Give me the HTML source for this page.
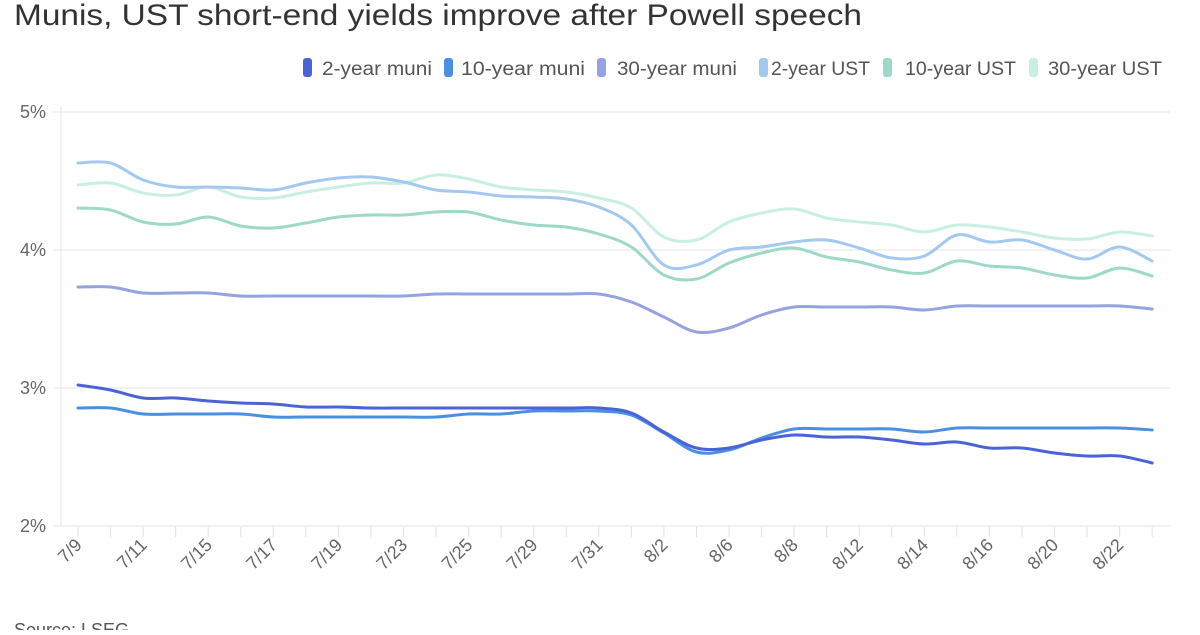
<!DOCTYPE html>
<html><head><meta charset="utf-8"><style>
body{margin:0;background:#fff;width:1200px;height:630px;overflow:hidden;font-family:"Liberation Sans",sans-serif}
</style></head><body>
<svg id="s" width="1200" height="630" xmlns="http://www.w3.org/2000/svg" font-family="Liberation Sans, sans-serif">
<text x="14" y="25" font-size="30" fill="#333" textLength="848" lengthAdjust="spacingAndGlyphs">Munis, UST short-end yields improve after Powell speech</text>
<g font-size="19" fill="#555" lengthAdjust="spacingAndGlyphs">
<rect x="303" y="58" width="9" height="19" rx="3" fill="#4a63d6"/><text x="322" y="75" textLength="110" lengthAdjust="spacingAndGlyphs">2-year muni</text>
<rect x="444" y="58" width="9" height="19" rx="3" fill="#4a90e2"/><text x="461" y="75" textLength="124" lengthAdjust="spacingAndGlyphs">10-year muni</text>
<rect x="597" y="58" width="9" height="19" rx="3" fill="#95a3e0"/><text x="617" y="75" textLength="120" lengthAdjust="spacingAndGlyphs">30-year muni</text>
<rect x="759" y="58" width="9" height="19" rx="3" fill="#a3c9f1"/><text x="771" y="75" textLength="99" lengthAdjust="spacingAndGlyphs">2-year UST</text>
<rect x="883" y="58" width="9" height="19" rx="3" fill="#9ed8c8"/><text x="905" y="75" textLength="111" lengthAdjust="spacingAndGlyphs">10-year UST</text>
<rect x="1029" y="58" width="9" height="19" rx="3" fill="#c8efe3"/><text x="1048" y="75" textLength="114" lengthAdjust="spacingAndGlyphs">30-year UST</text>
</g>
<g stroke="#e6e6e6" stroke-width="1">
<line x1="53" y1="112" x2="1170" y2="112"/><line x1="53" y1="250" x2="1170" y2="250"/>
<line x1="53" y1="388" x2="1170" y2="388"/><line x1="53" y1="526" x2="1170" y2="526"/>
<line x1="61" y1="106" x2="61" y2="526"/>
</g>
<g font-size="18" fill="#666" text-anchor="end">
<text x="46" y="118">5%</text><text x="46" y="256">4%</text><text x="46" y="394">3%</text><text x="46" y="532">2%</text>
</g>
<g id="ticks" stroke="#e0e0e0"></g>
<g id="xl" font-size="18" fill="#666"></g>
<g id="lines" fill="none" stroke-width="3" stroke-linejoin="round" stroke-linecap="round"></g>
<text x="14" y="636" font-size="18" fill="#555">Source: LSEG</text>
</svg>
<script>
var X=function(i){return 78+i*32.55;};
var S=[
["#c8efe3",[185,183,193,195,187,197,198,192,187,183,183,175,179,187,190,192,198,208,237,240,222,213,209,218,222,225,232,225,227,232,238,239,232,236]],
["#a3c9f1",[163,163,180,187,187,188,190,183,178,177,182,190,192,196,197,199,207,225,265,265,250,247,242,240,248,258,256,235,242,240,250,259,247,261]],
["#9ed8c8",[208,210,222,224,217,226,228,223,217,215,215,212,212,220,225,227,234,247,275,279,263,253,248,257,262,270,273,261,266,268,275,278,268,276]],
["#95a3e0",[287,287,293,293,293,296,296,296,296,296,296,294,294,294,294,294,294,302,317,332,328,315,307,307,307,307,310,306,306,306,306,306,306,309]],
["#4a90e2",[408,408,414,414,414,414,417,417,417,417,417,417,414,414,411,411,411,415,433,452,450,438,429,429,429,429,432,428,428,428,428,428,428,430]],
["#4a63d6",[385,390,398,398,401,403,404,407,407,408,408,408,408,408,408,408,408,413,432,448,448,440,435,437,437,440,444,442,448,448,453,456,456,463]]
];
var ns="http://www.w3.org/2000/svg",g=document.getElementById("lines");
S.forEach(function(s){var y=s[1],d="M"+X(0)+","+y[0];
for(var i=0;i<y.length-1;i++){var p0=i?i-1:i,p3=i+2<y.length?i+2:i+1;
var c1x=X(i)+(X(i+1)-X(p0))/6,c1y=y[i]+(y[i+1]-y[p0])/6,c2x=X(i+1)-(X(p3)-X(i))/6,c2y=y[i+1]-(y[p3]-y[i])/6;
d+=" C"+c1x+","+c1y+" "+c2x+","+c2y+" "+X(i+1)+","+y[i+1];}
var p=document.createElementNS(ns,"path");p.setAttribute("d",d);p.setAttribute("stroke",s[0]);g.appendChild(p);});
var t=document.getElementById("ticks"),xl=document.getElementById("xl");
for(var i=0;i<34;i++){var l=document.createElementNS(ns,"line");l.setAttribute("x1",X(i));l.setAttribute("x2",X(i));l.setAttribute("y1",527);l.setAttribute("y2",537);t.appendChild(l);}
var L=["7/9","7/11","7/15","7/17","7/19","7/23","7/25","7/29","7/31","8/2","8/6","8/8","8/12","8/14","8/16","8/20","8/22"];
L.forEach(function(s,k){var x=X(2*k)+5,y=546;var e=document.createElementNS(ns,"text");e.setAttribute("x",x);e.setAttribute("y",y);e.setAttribute("text-anchor","end");e.setAttribute("transform","rotate(-45 "+x+" "+y+")");e.textContent=s;xl.appendChild(e);});
</script>
</body></html>
